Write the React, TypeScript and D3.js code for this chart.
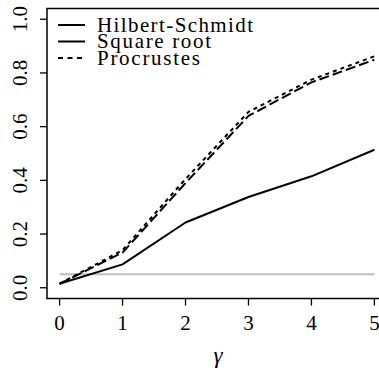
import * as d3 from 'd3';

const GAMMA = [0, 1, 2, 3, 4, 5];
const HILBERT_SCHMIDT = [0.015, 0.087, 0.243, 0.338, 0.415, 0.514];
const SQUARE_ROOT = [0.015, 0.131, 0.39, 0.64, 0.765, 0.849];
const PROCRUSTES = [0.015, 0.14, 0.405, 0.655, 0.775, 0.862];
const X_TICKS = [0, 1, 2, 3, 4, 5];
const Y_TICKS = [0, 0.2, 0.4, 0.6, 0.8, 1.0];
const REF_LEVEL = 0.05;

const SERIES = [
  { name: 'Hilbert-Schmidt', values: HILBERT_SCHMIDT, dash: null, legendDash: null, textW: 156 },
  { name: 'Square root', values: SQUARE_ROOT, dash: '10,4', legendDash: null, textW: 114 },
  { name: 'Procrustes', values: PROCRUSTES, dash: '4,4', legendDash: '5,4.5', textW: 103 },
];

const FONT = 'Liberation Serif';

export default function App() {
  const w = 379;
  const h = 371;
  const plot = { left: 47, top: 8.5, right: 387, bottom: 298.5 };

  const x = d3.scaleLinear().domain([-0.2, 5.2]).range([plot.left, plot.right]);
  const y = d3.scaleLinear().domain([-0.04, 1.04]).range([plot.bottom, plot.top]);

  const line = d3.line<number>()
    .x((_, i) => x(GAMMA[i]))
    .y(d => y(d));

  return (
    <svg width={w} height={h} fontFamily={FONT} style={{ position: 'absolute', left: 0, top: 0 }}>
      <rect x={0} y={0} width={w} height={h} fill="#fff" />

      {/* reference level */}
      <line x1={x(0)} x2={x(5)} y1={y(REF_LEVEL)} y2={y(REF_LEVEL)} stroke="#bebebe" strokeWidth={2} />

      {SERIES.map(s => (
        <path key={s.name} d={line(s.values) ?? ''} fill="none" stroke="#000" strokeWidth={2}
          strokeDasharray={s.dash ?? undefined} strokeLinejoin="round" />
      ))}

      {/* box */}
      <rect x={plot.left} y={plot.top} width={plot.right - plot.left} height={plot.bottom - plot.top}
        fill="none" stroke="#000" strokeWidth={1.5} />

      {/* x axis */}
      {X_TICKS.map(t => (
        <g key={t}>
          <line x1={x(t)} x2={x(t)} y1={plot.bottom} y2={plot.bottom + 7} stroke="#000" strokeWidth={1.3} />
          <text x={x(t)} y={330} textAnchor="middle" fontSize={21} fill="#000">{t}</text>
        </g>
      ))}

      {/* y axis */}
      {Y_TICKS.map(t => (
        <g key={t}>
          <line x1={plot.left - 7} x2={plot.left} y1={y(t)} y2={y(t)} stroke="#000" strokeWidth={1.3} />
          <text transform={`translate(27,${y(t)}) rotate(-90)`} textAnchor="middle" fontSize={21}
            fill="#000">{d3.format('.1f')(t)}</text>
        </g>
      ))}

      <text x={218} y={363} textAnchor="middle" fontSize={23} fontStyle="italic">γ</text>

      {/* legend */}
      {SERIES.map((s, i) => {
        const ly = 25 + i * 16.5;
        return (
          <g key={s.name}>
            <line x1={58} x2={85} y1={ly} y2={ly} stroke="#000" strokeWidth={2}
              strokeDasharray={s.legendDash ?? undefined} />
            <text x={97} y={ly + 6.5} fontSize={21} fill="#000"
              textLength={s.textW} lengthAdjust="spacing">{s.name}</text>
          </g>
        );
      })}
    </svg>
  );
}
